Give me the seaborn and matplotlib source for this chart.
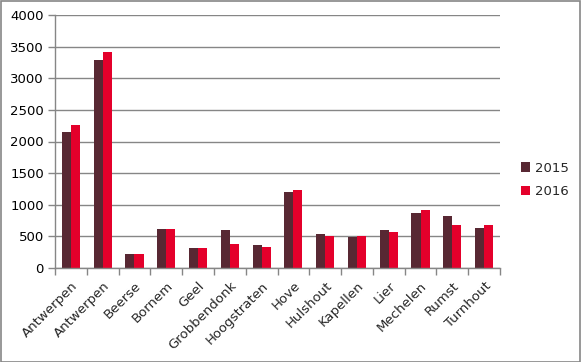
import matplotlib
matplotlib.use("Agg")
import matplotlib.pyplot as plt
import seaborn as sns
import pandas as pd
import numpy as np
from matplotlib.patches import Rectangle

categories = ["Antwerpen", "Antwerpen", "Beerse", "Bornem", "Geel", "Grobbendonk",
              "Hoogstraten", "Hove", "Hulshout", "Kapellen", "Lier", "Mechelen",
              "Rumst", "Turnhout"]
values_2015 = [2150, 3289, 221, 617, 316, 601, 364, 1202, 538, 490, 601, 870, 822, 632]
values_2016 = [2261, 3415, 221, 617, 316, 379, 332, 1233, 506, 506, 569, 917, 680, 680]
series = ["2015", "2016"]
colors = ["#582833", "#E4002B"]

sns.set_theme(style="white")
plt.rcParams['font.family'] = ['DejaVu Sans']

ids = list(range(len(categories)))
df = pd.DataFrame({
    "pos": ids * 2,
    "value": values_2015 + values_2016,
    "year": [series[0]] * len(ids) + [series[1]] * len(ids),
})

fig = plt.figure(figsize=(5.81, 3.62), dpi=100)
ax = fig.add_axes([55 / 581, 1 - 268 / 362, 445 / 581, 253 / 362])
sns.barplot(data=df, x="pos", y="value", hue="year", palette=colors,
            width=0.57, saturation=1, ax=ax, edgecolor="none", linewidth=0)

ax.set_ylim(0, 4000)
ax.set_xlim(-0.5, len(categories) - 0.5)
ax.set_yticks(np.arange(0, 4001, 500))
ax.yaxis.grid(True, color="#868686", linewidth=1)
ax.set_axisbelow(True)
ax.set_xticks(ids)
ax.set_xticklabels(categories, rotation=45, ha="right", rotation_mode="anchor", fontsize=9.5)
ax.set_xticks(np.arange(-0.5, len(categories), 1), minor=True)
ax.tick_params(axis="x", which="major", length=0, pad=8)
ax.tick_params(axis="x", which="minor", length=5, color="#868686", width=1, direction="out", bottom=True)
ax.tick_params(axis="y", length=5, color="#868686", width=1, direction="out", left=True, labelsize=9.5, pad=3)
for lab in ax.get_yticklabels():
    lab.set_color("#000000")
ax.set_xlabel("")
ax.set_ylabel("")
for s in ["top", "right"]:
    ax.spines[s].set_visible(False)
for s in ["left", "bottom"]:
    ax.spines[s].set_color("#868686")
    ax.spines[s].set_linewidth(1)

leg = ax.legend(loc="center left", bbox_to_anchor=(1.02, 0.348), frameon=False,
                fontsize=9.5, handlelength=0.7, handleheight=0.7, handletextpad=0.4,
                labelspacing=0.8)

fig.patches.append(Rectangle((0.5 / 581, 0.5 / 362), 1 - 1.5 / 581, 1 - 1.5 / 362,
                             transform=fig.transFigure, fill=False,
                             edgecolor="#868686", linewidth=1.2))

fig.savefig("out.png", dpi=100)
